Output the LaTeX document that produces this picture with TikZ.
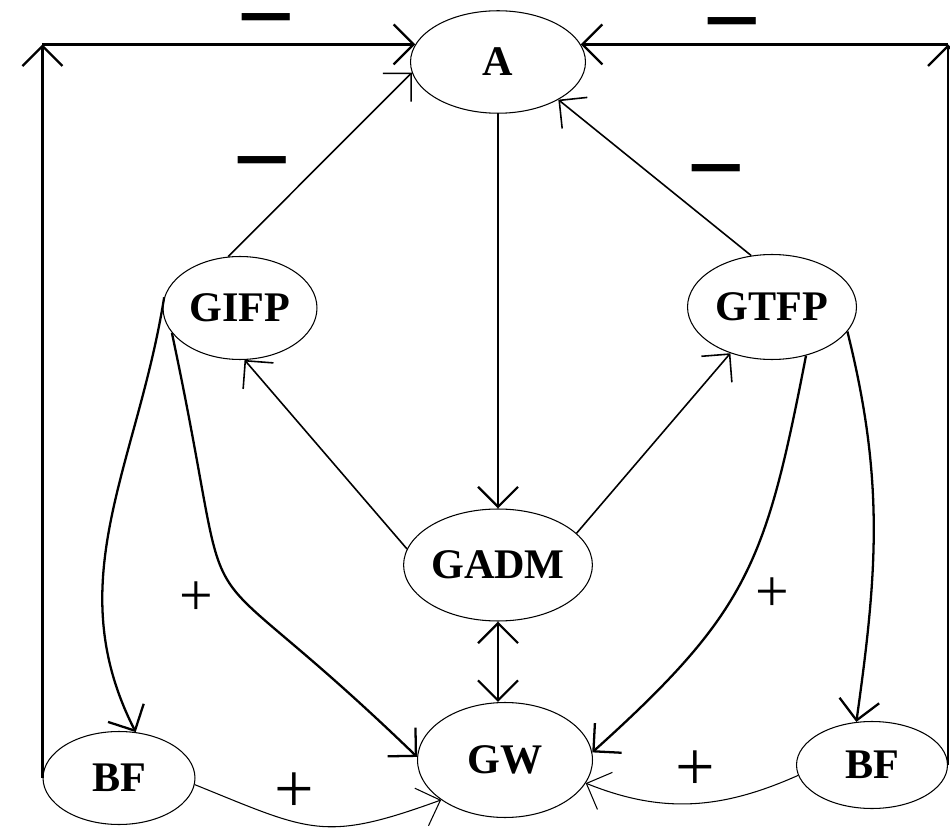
\documentclass[tikz,border=0pt]{standalone}
\usepackage{fontspec}
\setmainfont{Liberation Serif}
\usetikzlibrary{shapes.geometric, arrows.meta}
\tikzset{
    var/.style={ellipse, draw, line width=0.6pt, inner sep=0pt, font=\fontsize{24}{28}\selectfont\bfseries},
    link/.style={line width=1.3pt, ->},
    thinlink/.style={line width=0.6pt, ->},
    minus/.style={inner sep=0pt, font=\fontsize{27}{27}\selectfont\bfseries},
    plus/.style={inner sep=0pt, font=\fontsize{34}{34}\selectfont}
}

\begin{document}
\begin{tikzpicture}[x=0.02cm, y=-0.02cm, >={Straight Barb[length=4mm, width=8mm]}]
            \useasboundingbox[fill=white] (0,0) rectangle (950,834);
            \node[var, minimum width=3.5cm, minimum height=2.05cm] (a) at (498,62) {A};
            \node[var, minimum width=3.08cm, minimum height=2.06cm] (gifp) at (240,308) {GIFP};
            \node[var, minimum width=3.38cm, minimum height=2.1cm] (gtfp) at (772,307) {GTFP};
            \node[var, minimum width=3.58cm, minimum height=2.24cm] (gadm) at (498,565) {GADM};
            \node[var, minimum width=3.5cm, minimum height=2.3cm] (gw) at (505,760) {GW};
            \node[var, minimum width=3.04cm, minimum height=1.86cm] (bfl) at (119,778) {BF};
            \node[var, minimum width=3.02cm, minimum height=1.74cm] (bfr) at (872,765) {BF};
            \coordinate (tl) at (bfl.west |- a.168);
            \coordinate (tr) at (bfr.east |- a.12);

            \node[minus] (m1) at (266,28) {\scalebox{1}[2.2]{—}};
            \node[minus] (m2) at (732,32) {\scalebox{1}[2.2]{—}};
            \node[minus] (m3) at (262,171) {\scalebox{1}[2.2]{—}};
            \node[minus] (m4) at (716,179) {\scalebox{1}[2.2]{—}};
            \node[plus] (p1) at (196,599) {+};
            \node[plus] (p2) at (772,595) {+};
            \node[plus, font=\fontsize{40}{40}\selectfont] (p3) at (294,793) {+};
            \node[plus, font=\fontsize{40}{40}\selectfont] (p4) at (695,771) {+};

            \draw[link] (bfl.west) -- (tl);
            \draw[link] (tl) -- (a.168);
            \draw[link] (bfr.east) -- (tr);
            \draw[link] (tr) -- (a.12);
            \draw[link, line width=0.9pt] (gifp.103) -- (a.187);
            \draw[link, line width=0.9pt] (gtfp.112) -- (a.-32);
            \draw[link] (a.south) -- (gadm.north);
            \draw[link, line width=0.9pt] (gadm.170) -- (gifp.-85);
            \draw[link, line width=0.9pt] (gadm.22) -- (gtfp.228);
            \draw[link, <->] (gadm.south) -- (gadm.south |- gw.north);
            \draw[link] (gifp.172) to[out=-99, in=117] (bfl.70);
            \draw[link] (gifp.200) to[out=-78, in=136, looseness=1.8] (gw.178);
            \draw[link] (gtfp.-55) to[out=-101, in=42, looseness=1.2] (gw.5);
            \draw[link] (gtfp.-18) to[out=-76, in=82] (bfr.110);
            \draw[thinlink] (bfl.-5) to[out=-22, in=200, looseness=1.3] (gw.212);
            \draw[thinlink] (bfr.188) to[out=204, in=-22] (gw.-16);
        \end{tikzpicture}
\end{document}
